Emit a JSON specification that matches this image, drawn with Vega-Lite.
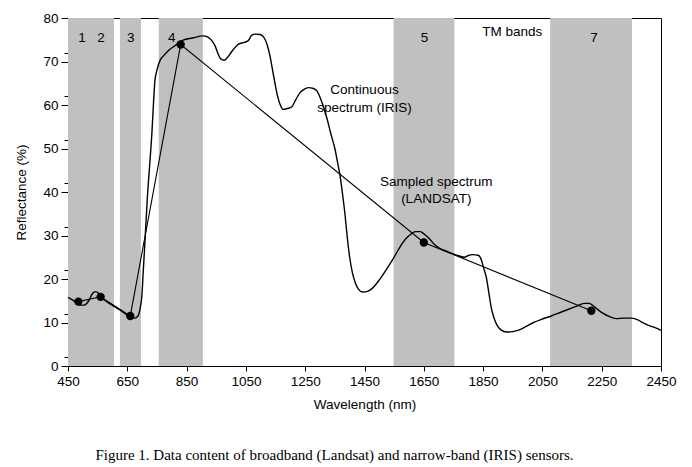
{
  "$schema": "https://vega.github.io/schema/vega-lite/v6.json",
  "width": 593,
  "height": 348,
  "autosize": "none",
  "padding": {"left": 68, "top": 18, "right": 31, "bottom": 101},
  "background": "white",
  "config": {
    "font": "Liberation Sans",
    "view": {"stroke": "black", "strokeWidth": 1},
    "axis": {"domainColor": "black", "tickColor": "black", "labelColor": "black", "titleColor": "black", "labelFont": "Liberation Sans", "titleFont": "Liberation Sans", "labelFontSize": 13.5, "titleFontSize": 13.5, "titleFontWeight": "normal", "grid": false, "labelOverlap": false}
  },
  "title": {
    "text": "Figure 1. Data content of broadband (Landsat) and narrow-band (IRIS) sensors.",
    "orient": "bottom",
    "font": "Liberation Serif",
    "fontSize": 15,
    "fontWeight": "normal",
    "color": "black",
    "anchor": "middle",
    "dx": -30,
    "offset": 37
  },
  "resolve": {"axis": {"y": "independent"}},
  "layer": [
    {
      "data": {"values": [
        {"start": 450, "end": 605},
        {"start": 625, "end": 696},
        {"start": 756, "end": 905},
        {"start": 1548, "end": 1753},
        {"start": 2076, "end": 2352}
      ]},
      "mark": {"type": "rect", "color": "#c0c0c0"},
      "encoding": {
        "x": {"field": "start", "type": "quantitative", "scale": {"domain": [450, 2450], "nice": false, "zero": false},
          "axis": {"title": "Wavelength (nm)", "values": [450,550,650,750,850,950,1050,1150,1250,1350,1450,1550,1650,1750,1850,1950,2050,2150,2250,2350,2450], "format": "d", "labelExpr": "(datum.value - 450) % 200 === 0 ? datum.label : ''", "labelOverlap": false, "tickSize": 5, "labelPadding": 3, "titlePadding": 10, "labelFlush": false}},
        "x2": {"field": "end"}
      }
    },
    {
      "data": {"values": [
        {"wl": 450, "r": 15.8}, {"wl": 465, "r": 15.2}, {"wl": 477, "r": 14.6}, {"wl": 490, "r": 14.0},
        {"wl": 505, "r": 14.0}, {"wl": 520, "r": 15.0}, {"wl": 532, "r": 16.6}, {"wl": 543, "r": 17.1},
        {"wl": 552, "r": 16.8}, {"wl": 560, "r": 15.9}, {"wl": 580, "r": 14.8}, {"wl": 605, "r": 13.7},
        {"wl": 625, "r": 12.9}, {"wl": 645, "r": 11.9}, {"wl": 660, "r": 11.2}, {"wl": 675, "r": 11.0},
        {"wl": 686, "r": 11.5}, {"wl": 694, "r": 13.5}, {"wl": 699, "r": 16.0}, {"wl": 704, "r": 22.0},
        {"wl": 709, "r": 28.0}, {"wl": 717, "r": 38.0}, {"wl": 726, "r": 46.7}, {"wl": 733, "r": 53.6},
        {"wl": 738, "r": 60.0}, {"wl": 743, "r": 65.5}, {"wl": 750, "r": 68.0}, {"wl": 760, "r": 70.2},
        {"wl": 772, "r": 71.3}, {"wl": 790, "r": 72.6}, {"wl": 810, "r": 73.6}, {"wl": 838, "r": 74.9},
        {"wl": 871, "r": 75.4}, {"wl": 905, "r": 75.9}, {"wl": 922, "r": 75.6}, {"wl": 935, "r": 74.8},
        {"wl": 946, "r": 73.6}, {"wl": 956, "r": 71.8}, {"wl": 965, "r": 70.6}, {"wl": 977, "r": 70.3},
        {"wl": 992, "r": 71.3}, {"wl": 1008, "r": 72.8}, {"wl": 1025, "r": 74.0}, {"wl": 1045, "r": 74.4},
        {"wl": 1058, "r": 74.8}, {"wl": 1069, "r": 76.0}, {"wl": 1082, "r": 76.3}, {"wl": 1098, "r": 76.2},
        {"wl": 1112, "r": 75.4}, {"wl": 1122, "r": 73.8}, {"wl": 1132, "r": 71.0}, {"wl": 1140, "r": 68.0},
        {"wl": 1148, "r": 65.0}, {"wl": 1157, "r": 62.0}, {"wl": 1165, "r": 60.2}, {"wl": 1175, "r": 59.0},
        {"wl": 1190, "r": 59.2}, {"wl": 1205, "r": 59.6}, {"wl": 1218, "r": 61.2}, {"wl": 1232, "r": 62.8},
        {"wl": 1246, "r": 63.6}, {"wl": 1260, "r": 64.0}, {"wl": 1278, "r": 63.8}, {"wl": 1290, "r": 63.2},
        {"wl": 1300, "r": 61.8}, {"wl": 1312, "r": 59.5}, {"wl": 1323, "r": 57.0}, {"wl": 1336, "r": 53.5},
        {"wl": 1350, "r": 50.0}, {"wl": 1360, "r": 46.5}, {"wl": 1367, "r": 44.0}, {"wl": 1376, "r": 39.5},
        {"wl": 1384, "r": 35.0}, {"wl": 1392, "r": 29.5}, {"wl": 1400, "r": 25.0}, {"wl": 1409, "r": 21.5},
        {"wl": 1418, "r": 19.3}, {"wl": 1430, "r": 17.6}, {"wl": 1443, "r": 17.0}, {"wl": 1458, "r": 17.1},
        {"wl": 1477, "r": 17.9}, {"wl": 1500, "r": 19.8}, {"wl": 1524, "r": 22.2}, {"wl": 1548, "r": 24.8},
        {"wl": 1570, "r": 27.4}, {"wl": 1590, "r": 29.3}, {"wl": 1606, "r": 30.3}, {"wl": 1622, "r": 30.9},
        {"wl": 1638, "r": 30.9}, {"wl": 1652, "r": 30.3}, {"wl": 1668, "r": 29.3}, {"wl": 1685, "r": 28.0},
        {"wl": 1705, "r": 27.0}, {"wl": 1730, "r": 26.3}, {"wl": 1760, "r": 25.5}, {"wl": 1787, "r": 25.0},
        {"wl": 1800, "r": 25.4}, {"wl": 1815, "r": 25.6}, {"wl": 1835, "r": 25.4}, {"wl": 1845, "r": 24.2},
        {"wl": 1852, "r": 22.5}, {"wl": 1861, "r": 20.3}, {"wl": 1869, "r": 17.0}, {"wl": 1877, "r": 13.6},
        {"wl": 1886, "r": 11.2}, {"wl": 1896, "r": 9.5}, {"wl": 1910, "r": 8.3}, {"wl": 1930, "r": 7.8},
        {"wl": 1950, "r": 7.9}, {"wl": 1972, "r": 8.3}, {"wl": 1995, "r": 9.1}, {"wl": 2020, "r": 10.0},
        {"wl": 2050, "r": 10.8}, {"wl": 2080, "r": 11.5}, {"wl": 2110, "r": 12.3}, {"wl": 2140, "r": 13.1},
        {"wl": 2170, "r": 13.9}, {"wl": 2192, "r": 14.4}, {"wl": 2208, "r": 14.4}, {"wl": 2222, "r": 13.8},
        {"wl": 2238, "r": 12.9}, {"wl": 2255, "r": 12.1}, {"wl": 2275, "r": 11.4}, {"wl": 2298, "r": 10.9},
        {"wl": 2325, "r": 11.0}, {"wl": 2352, "r": 11.0}, {"wl": 2372, "r": 10.6}, {"wl": 2390, "r": 9.9},
        {"wl": 2410, "r": 9.3}, {"wl": 2430, "r": 8.8}, {"wl": 2450, "r": 8.2}
      ]},
      "mark": {"type": "line", "color": "black", "strokeWidth": 1.4, "interpolate": "monotone"},
      "encoding": {
        "x": {"field": "wl", "type": "quantitative"},
        "y": {"field": "r", "type": "quantitative", "scale": {"domain": [0, 80], "nice": false},
          "axis": {"title": "Reflectance (%)", "orient": "left", "values": [0,10,20,30,40,50,60,70,80],
            "labelOverlap": false, "tickSize": 7, "labelPadding": 3, "titlePadding": 14}}
      }
    },
    {
      "data": {"values": [
        {"wl": 485, "r": 14.8}, {"wl": 560, "r": 15.9}, {"wl": 660, "r": 11.5},
        {"wl": 830, "r": 73.9}, {"wl": 1650, "r": 28.4}, {"wl": 2215, "r": 12.7}
      ]},
      "layer": [
        {"mark": {"type": "line", "color": "black", "strokeWidth": 1.1},
          "encoding": {"x": {"field": "wl", "type": "quantitative"}, "y": {"field": "r", "type": "quantitative",
            "axis": {"orient": "left", "title": null, "labels": false, "domain": false, "tickSize": 4, "values": [2,4,6,8,12,14,16,18,22,24,26,28,32,34,36,38,42,44,46,48,52,54,56,58,62,64,66,68,72,74,76,78]}}}},
        {"mark": {"type": "point", "filled": true, "color": "black", "opacity": 1, "size": 70},
          "encoding": {"x": {"field": "wl", "type": "quantitative"}, "y": {"field": "r", "type": "quantitative"}}}
      ]
    },
    {
      "data": {"values": [
        {"t": "1", "wl": 497, "r": 75.4}, {"t": "2", "wl": 561, "r": 75.4}, {"t": "3", "wl": 662, "r": 75.4},
        {"t": "4", "wl": 800, "r": 75.4}, {"t": "5", "wl": 1652, "r": 75.4}, {"t": "7", "wl": 2224, "r": 75.4},
        {"t": "TM bands", "wl": 1948, "r": 76.8},
        {"t": "Continuous", "wl": 1450, "r": 63.4}, {"t": "spectrum (IRIS)", "wl": 1450, "r": 59.3},
        {"t": "Sampled spectrum", "wl": 1692, "r": 42.4}, {"t": "(LANDSAT)", "wl": 1692, "r": 38.5}
      ]},
      "mark": {"type": "text", "font": "Liberation Sans", "fontSize": 13.5, "color": "black", "align": "center", "baseline": "middle"},
      "encoding": {
        "x": {"field": "wl", "type": "quantitative"},
        "y": {"field": "r", "type": "quantitative", "axis": null},
        "text": {"field": "t"}
      }
    }
  ]
}
